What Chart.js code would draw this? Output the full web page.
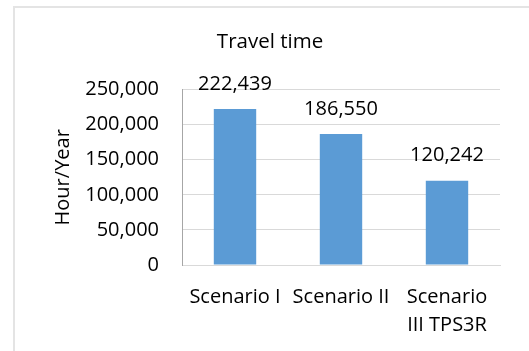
<!DOCTYPE html>
<html>
<head>
<meta charset="utf-8">
<script src="https://cdn.jsdelivr.net/npm/chart.js@4/dist/chart.umd.min.js"></script>
<style>
  html, body { margin: 0; padding: 0; background: #fff; overflow: hidden; }
  #wrap { position: relative; width: 529px; height: 351px; }
  #frame {
    position: absolute; left: 13px; top: 6px; width: 600px; height: 400px;
    border-top: 2px solid #e4e4e4; border-left: 2px solid #e4e4e4;
  }
  #chart { position: absolute; left: 0; top: 0; }
</style>
</head>
<body>
<div id="wrap">
  <div id="frame"></div>
  <canvas id="chart" width="529" height="351"></canvas>
</div>
<script>
const categories = ["Scenario I", "Scenario II", ["Scenario", "III TPS3R"]];
const travelTime = [222439, 186550, 120242];
const yTicks = [0, 50000, 100000, 150000, 200000, 250000];

const FONT = "'Open Sans', 'Liberation Sans', sans-serif";
const fmt = v => Number(v).toLocaleString("en-US");

// value labels above each bar
const barLabels = {
  id: "barLabels",
  afterDatasetsDraw(chart) {
    const ctx = chart.ctx;
    const meta = chart.getDatasetMeta(0);
    ctx.save();
    ctx.font = "20px " + FONT;
    ctx.fillStyle = "#000";
    ctx.textAlign = "center";
    ctx.textBaseline = "middle";
    meta.data.forEach((bar, i) => {
      ctx.fillText(fmt(travelTime[i]), bar.x, bar.y - 25);
    });
    ctx.restore();
  }
};

new Chart(document.getElementById("chart").getContext("2d"), {
  type: "bar",
  data: {
    labels: categories,
    datasets: [{
      label: "Travel time",
      data: travelTime,
      backgroundColor: "#5b9bd5",
      borderWidth: 0,
      barPercentage: 0.4,
      categoryPercentage: 1
    }]
  },
  options: {
    responsive: false,
    animation: false,
    layout: { padding: { left: 40, right: 29, top: 0, bottom: 0 } },
    plugins: {
      legend: { display: false },
      tooltip: { enabled: false },
      title: {
        display: true,
        text: "Travel time",
        color: "#000",
        font: { family: FONT, size: 20.5, weight: "normal" },
        padding: { top: 30, bottom: 35 }
      }
    },
    scales: {
      x: {
        grid: { display: false, drawTicks: false },
        border: { display: true, color: "#d9d9d9", width: 1 },
        ticks: {
          color: "#000",
          padding: 18,
          maxRotation: 0,
          autoSkip: false,
          font: { family: FONT, size: 20, lineHeight: 1.4 }
        },
        afterFit(scale) { scale.height = 86; }
      },
      y: {
        min: 0,
        max: 250000,
        afterBuildTicks(scale) { scale.ticks = yTicks.map(v => ({ value: v })); },
        grid: { color: "#d9d9d9", lineWidth: 1, drawTicks: false },
        border: { display: true, color: "#a6a6a6", width: 1 },
        ticks: {
          color: "#000",
          padding: 23,
          font: { family: FONT, size: 20 },
          callback: v => fmt(v)
        },
        title: {
          display: true,
          text: "Hour/Year",
          color: "#000",
          font: { family: FONT, size: 20, weight: "normal" },
          padding: { top: 11, bottom: 0 }
        },
        afterFit(scale) { scale.width = 142; }
      }
    }
  },
  plugins: [barLabels]
});
</script>
</body>
</html>
